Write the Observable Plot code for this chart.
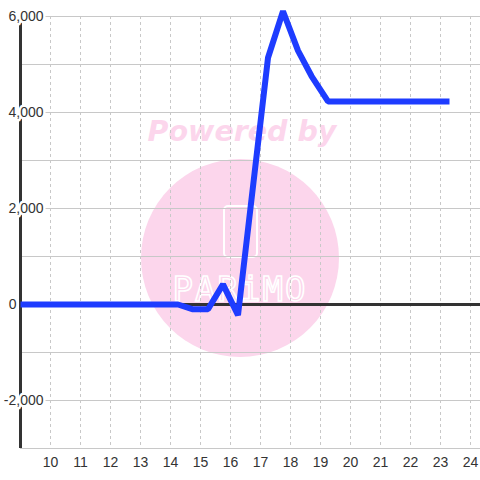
<!DOCTYPE html>
<html>
<head>
<meta charset="utf-8">
<script src="https://cdn.jsdelivr.net/npm/d3@7"></script>
<script src="https://cdn.jsdelivr.net/npm/@observablehq/plot@0.6"></script>
<style>
  html, body { margin: 0; padding: 0; background: #fff; }
  #chart svg { display: block; }
</style>
</head>
<body>
<div id="chart"></div>
<script>
// Data
const xs = [9, 14.25, 14.75, 15.25, 15.75, 16.25, 17.25, 17.75, 18.25, 18.7, 19.25, 23.3];
const ys = [0, 0, -100, -100, 420, -220, 5140, 6110, 5290, 4760, 4230, 4230];
const xTicks = [10, 11, 12, 13, 14, 15, 16, 17, 18, 19, 20, 21, 22, 23, 24];
const xGrid = [10, 11, 12, 13, 14, 15, 16, 17, 18, 19, 20, 21, 22, 23, 24];
const yGrid = [-3000, -2000, -1000, 0, 1000, 2000, 3000, 4000, 5000, 6000];
const yLabels = [6000, 4000, 2000, -2000];

const data = xs.map((x, i) => ({x, y: ys[i]}));
const fmt = d => d3.format(",")(d).replace("\u2212", "-");
const pink = "#fcd6ec";
const textColor = "#333";

// Decorative watermark as a function mark
function watermark(index, scales, values, dims) {
  const cx = (dims.marginLeft + dims.width - dims.marginRight) / 2 - 10;
  const cy = (dims.marginTop + dims.height - dims.marginBottom) / 2;
  const g = d3.create("svg:g");
  g.append("text")
    .attr("x", cx + 2).attr("y", cy - 99)
    .attr("text-anchor", "middle").attr("dominant-baseline", "middle")
    .attr("font-family", "DejaVu Sans").attr("font-weight", "bold").attr("font-style", "italic")
    .attr("font-size", 28.5).attr("fill", pink).text("Powered by");
  g.append("circle").attr("cx", cx).attr("cy", cy + 26).attr("r", 99).attr("fill", pink);
  g.append("rect").attr("x", cx - 16).attr("y", cy - 26).attr("width", 33).attr("height", 51)
    .attr("rx", 4).attr("fill", "none").attr("stroke", "#fff").attr("stroke-width", 2);
  g.append("text")
    .attr("x", cx).attr("y", cy + 59)
    .attr("text-anchor", "middle").attr("dominant-baseline", "middle")
    .attr("font-family", "DejaVu Sans Mono").attr("font-size", 34)
    .attr("fill", "none").attr("stroke", "#fff").attr("stroke-width", 1.6)
    .attr("letter-spacing", 2).text("PARiMO");
  return g.node();
}

const chart = Plot.plot({
  width: 480,
  height: 480,
  marginLeft: 20,
  marginRight: 0,
  marginTop: 16,
  marginBottom: 32,
  x: {domain: [9, 24.3333], axis: null},
  y: {domain: [-3000, 6000], axis: null},
  style: {background: "#fff", fontFamily: "Liberation Sans, Arial, sans-serif"},
  marks: [
    watermark,
    Plot.ruleY(yGrid, {stroke: "#c8c8c8", strokeWidth: 1}),
    Plot.ruleX(xGrid, {stroke: "#c8c8c8", strokeWidth: 1, strokeDasharray: "3,3"}),
    Plot.ruleY([0], {stroke: "#333", strokeWidth: 3}),
    Plot.ruleX([9], {stroke: "#333", strokeWidth: 3}),
    Plot.text(yLabels, {
      y: d => d, frameAnchor: "left", textAnchor: "end", dx: 23,
      text: d => fmt(d), fontSize: 14, fill: textColor,
      stroke: "#fff", strokeWidth: 5
    }),
    Plot.text([0], {
      y: d => d, frameAnchor: "left", textAnchor: "end", dx: -4,
      text: d => fmt(d), fontSize: 14, fill: textColor,
      stroke: "#fff", strokeWidth: 5
    }),
    Plot.text(xTicks, {
      x: d => d, frameAnchor: "bottom", dy: 14, lineAnchor: "middle",
      text: d => String(d), fontSize: 14, fill: textColor
    }),
    Plot.line(data, {x: "x", y: "y", stroke: "#1e3cff", strokeWidth: 6, strokeLinejoin: "miter", strokeLinecap: "butt"})
  ]
});
document.getElementById("chart").appendChild(chart);
</script>
</body>
</html>
